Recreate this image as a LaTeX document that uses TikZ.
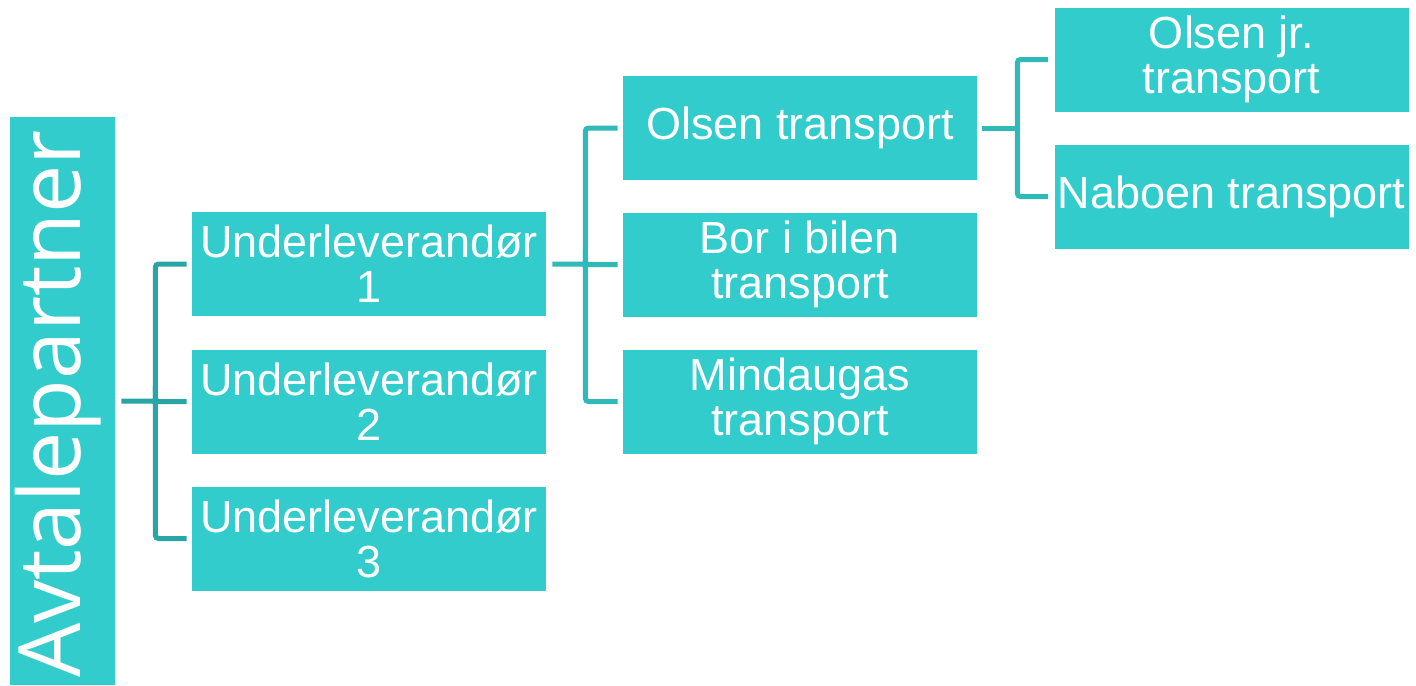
\documentclass[tikz,border=0pt]{standalone}
\usepackage{fontspec}
\setmainfont{Liberation Sans}
\newfontfamily\sidefont{Open Sans}
\usetikzlibrary{positioning}
\definecolor{boxteal}{HTML}{33CCCC}
\definecolor{linkdark}{HTML}{2AA5A5}
\definecolor{linkmid}{HTML}{30B9B9}
\tikzset{
  orgbox/.style = {fill=boxteal, text=white, inner sep=0pt, align=center,
    minimum width=177pt, minimum height=52pt,
    font=\fontsize{22.5pt}{22.5pt}\selectfont},
  sidebox/.style = {fill=boxteal, text=white, inner sep=0pt,
    minimum width=52.5pt, minimum height=284pt},
  linkA/.style = {draw=linkdark, line width=2.5pt, rounded corners=1.5pt},
  linkB/.style = {draw=linkmid, line width=2.5pt, rounded corners=1.5pt}
}

\begin{document}
\begin{tikzpicture}[x=0.5pt, y=-0.5pt]
  \useasboundingbox (0,0) rectangle (1416,685);

  \node[sidebox] (avtale) at (62.5,401) {};
  \node[text=white, rotate=90, font=\sidefont\fontsize{43pt}{43pt}\selectfont]
    (avtaletext) at (58,404) {Avtalepartner};

  \node[orgbox] (ul1) at (369,264) {Underleverandør\\1};
  \node[orgbox] (ul2) at (369,401.5) {Underleverandør\\2};
  \node[orgbox] (ul3) at (369,538.5) {Underleverandør\\3};

  \node[orgbox] (olsen) at (800,128) {Olsen transport};
  \node[orgbox] (bor) at (800,264.5) {Bor i bilen\\transport};
  \node[orgbox] (mind) at (800,401.5) {Mindaugas\\transport};

  \node[orgbox] (olsenjr) at (1231.5,59.5) {Olsen jr.\\transport};
  \node[orgbox] (naboen) at (1231.5,196.5) {Naboen transport};

  % joints
  \coordinate (j1) at ([xshift=20pt]avtale.east);
  \coordinate (j2) at ([xshift=19.5pt]ul1.east);
  \coordinate (j3) at ([xshift=20pt]olsen.east);

  \draw[linkA] ([xshift=-2.5pt]ul1.west) -| (j1) |- ([xshift=-2.5pt]ul3.west);
  \draw[linkA] ([xshift=3pt]avtale.east) -- (j1) |- ([xshift=-2.5pt]ul2.west);

  \draw[linkB] ([xshift=-2.5pt]olsen.west) -| (j2) |- ([xshift=-2.5pt]mind.west);
  \draw[linkB] ([xshift=3pt]ul1.east) -- (j2) |- ([xshift=-2.5pt]bor.west);

  \draw[linkB] ([xshift=-3pt]olsenjr.west) -| (j3) |- ([xshift=-3pt]naboen.west);
  \draw[linkB] ([xshift=2.5pt]olsen.east) -- (j3);
\end{tikzpicture}
\end{document}
